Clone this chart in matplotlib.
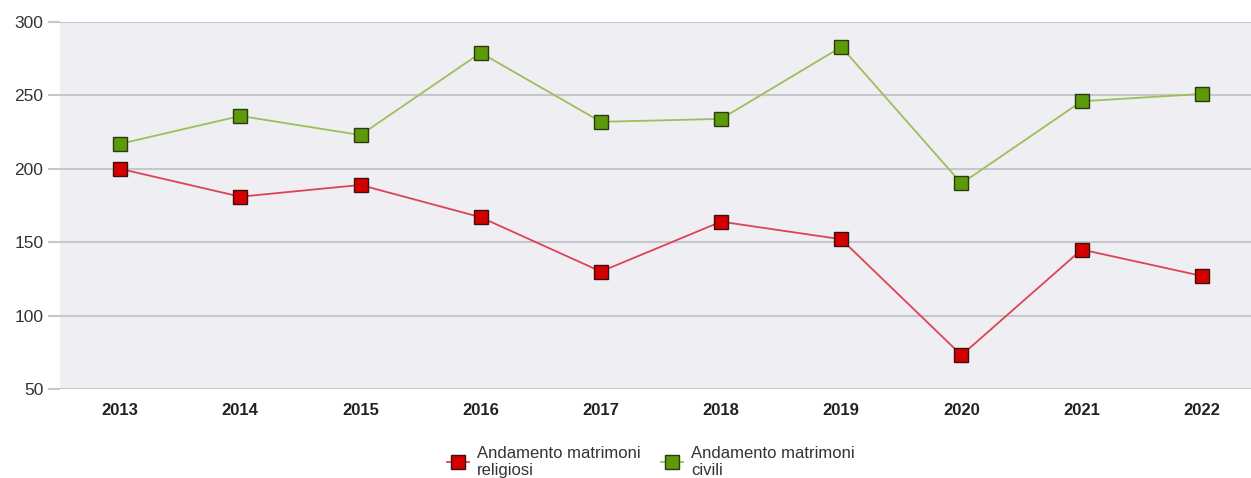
import matplotlib
matplotlib.use("Agg")
import matplotlib.pyplot as plt
from matplotlib.lines import Line2D

years = ["2013", "2014", "2015", "2016", "2017", "2018", "2019", "2020", "2021", "2022"]
religiosi = [200, 181, 189, 167, 130, 164, 152, 73, 145, 127]
civili = [217, 236, 223, 279, 232, 234, 283, 190, 246, 251]
yticks = [50, 100, 150, 200, 250, 300]
label_rel = "Andamento matrimoni\nreligiosi"
label_civ = "Andamento matrimoni\ncivili"

plt.rcParams['font.family'] = ['Liberation Sans', 'DejaVu Sans']

fig = plt.figure(figsize=(12.51, 4.78), dpi=100)
W, H = 1251, 478
ax = fig.add_axes([60 / W, (H - 389) / H, 1202 / W, (389 - 22) / H])
ax.set_facecolor('#EEEEF3')

x = list(range(len(years)))
ax.plot(x, civili, color='#9DBF5A', lw=1.3, marker='s', ms=9.5,
        mfc='#5C9A0A', mec='#2A3A10', mew=1.0, zorder=3)
ax.plot(x, religiosi, color='#DC4455', lw=1.3, marker='s', ms=9.5,
        mfc='#D40000', mec='#3A1010', mew=1.0, zorder=3)

ax.set_xlim(-0.5, len(years) - 0.5)
ax.set_ylim(50, 300)
ax.set_yticks(yticks)
ax.set_yticklabels([str(v) for v in yticks], fontsize=12.5, color='#333333')
ax.set_xticks(x)
ax.set_xticklabels(years, fontsize=12, fontweight='bold', color='#222222')
ax.grid(axis='y', color='#C6C6CC', lw=1.5, zorder=1)
ax.set_axisbelow(True)
for s in ax.spines.values():
    s.set_visible(False)
ax.tick_params(axis='y', length=9, width=1.5, color='#C6C6CC', pad=3)
ax.tick_params(axis='x', length=0, pad=10)

handles = [
    Line2D([], [], color='#DC4455', lw=1.3, marker='s', ms=9.5, mfc='#D40000', mec='#3A1010'),
    Line2D([], [], color='#9DBF5A', lw=1.3, marker='s', ms=9.5, mfc='#5C9A0A', mec='#2A3A10'),
]
fig.legend(handles, [label_rel, label_civ], loc='center', bbox_to_anchor=(651 / W, 1 - 462 / H),
           ncol=2, frameon=False, fontsize=12, handlelength=1.3, handletextpad=0.5,
           columnspacing=1.2, labelcolor='#333333', labelspacing=0)

fig.savefig('out.png', dpi=100)
